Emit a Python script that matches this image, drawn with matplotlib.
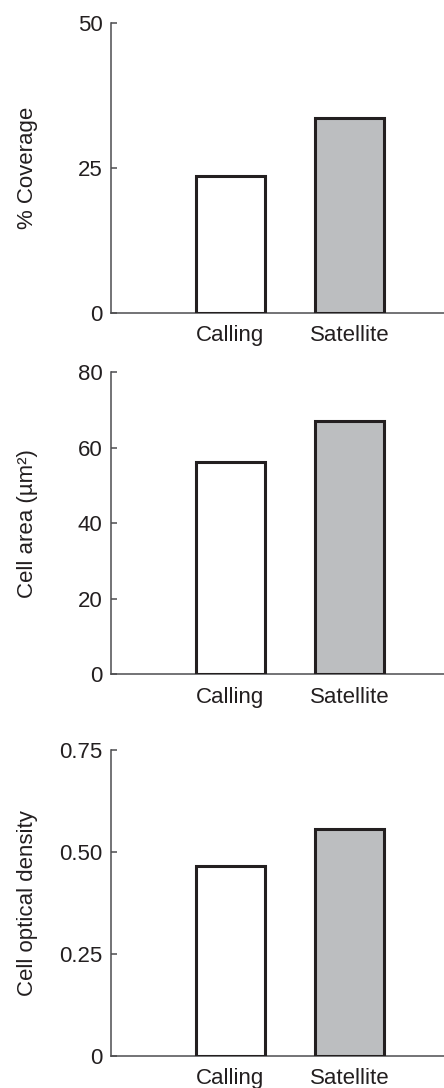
import numpy as np
import matplotlib
matplotlib.use("Agg")
from matplotlib import pyplot as plt

plt.rcParams['font.family'] = ['Liberation Sans', 'DejaVu Sans']

groups = ['Calling', 'Satellite']
coverage = [23.5, 33.5]
cell_area = [56.2, 67.1]
optical_density = [0.466, 0.557]

ink = '#231f20'
spine_col = '#4d4d4f'
fills = ['white', '#bcbec0']

panels = [
    (coverage, '% Coverage', [0, 25, 50], ['0', '25', '50'], 50),
    (cell_area, 'Cell area (\u00b5m\u00b2)', [0, 20, 40, 60, 80], ['0', '20', '40', '60', '80'], 80),
    (optical_density, 'Cell optical density', [0, 0.25, 0.5, 0.75], ['0', '0.25', '0.50', '0.75'], 0.75),
]
# axes boxes (left, bottom, width, height) in figure fractions
boxes = [
    [0.25, 0.7126, 0.75, 0.2665],
    [0.25, 0.3802, 0.75, 0.2779],
    [0.25, 0.0297, 0.75, 0.2810],
]

fig = plt.figure(figsize=(4.44, 10.88), dpi=100)
n = np.arange(len(groups))

for (vals, label, ticks, ticklabels, top), box in zip(panels, boxes):
    ax = fig.add_axes(box)
    ax.bar(n, vals, 0.58, color=fills, edgecolor=ink, linewidth=2.2, zorder=3)
    ax.set_xlim(-1.0, 1.79)
    ax.set_ylim(0, top)
    ax.set_yticks(ticks)
    ax.set_yticklabels(ticklabels)
    ax.set_xticks(n)
    ax.set_xticklabels(groups)
    for s in ['top', 'right']:
        ax.spines[s].set_visible(False)
    for s in ['left', 'bottom']:
        ax.spines[s].set_color(spine_col)
        ax.spines[s].set_linewidth(1.1)
    ax.tick_params(axis='y', direction='in', length=4.5, width=1.1, color=spine_col,
                   labelsize=16, labelcolor=ink, pad=6)
    ax.tick_params(axis='x', length=0, labelsize=16, labelcolor=ink, pad=9)
    ax.set_ylabel(label, fontsize=16, color=ink)
    ax.yaxis.set_label_coords(-0.22, 0.5)

plt.savefig('out.png', dpi=100)
